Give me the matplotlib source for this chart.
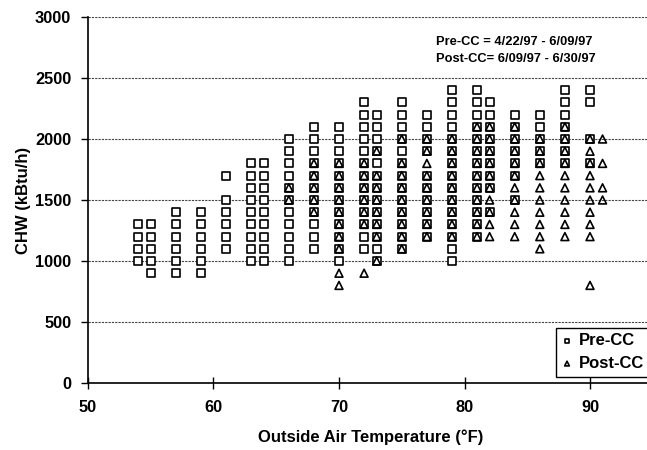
import matplotlib
matplotlib.use("Agg")
import matplotlib.pyplot as plt

plt.rcParams['font.family'] = ['Liberation Sans', 'DejaVu Sans']
plt.rcParams['font.weight'] = 'bold'

# Hourly chilled-water load (kBtu/h) grouped by outside air temperature (°F)
pre_temps = [54, 55, 57, 59, 61, 63, 64, 66, 68, 70, 72, 73, 75, 77, 79, 81, 82, 84, 86, 88, 90]
pre_chw = [
    [1000, 1100, 1200, 1300],
    [900, 1000, 1100, 1200, 1300],
    [900, 1000, 1100, 1200, 1300, 1400],
    [900, 1000, 1100, 1200, 1300, 1400],
    [1100, 1200, 1300, 1400, 1500, 1700],
    [1000, 1100, 1200, 1300, 1400, 1500, 1600, 1700, 1800],
    [1000, 1100, 1200, 1300, 1400, 1500, 1600, 1700, 1800],
    [1000, 1100, 1200, 1300, 1400, 1500, 1600, 1700, 1800, 1900, 2000],
    [1100, 1200, 1300, 1400, 1500, 1600, 1700, 1800, 1900, 2000, 2100],
    [1000, 1100, 1200, 1300, 1400, 1500, 1600, 1700, 1800, 1900, 2000, 2100],
    [1100, 1200, 1300, 1400, 1500, 1600, 1700, 1800, 1900, 2000, 2100, 2200, 2300],
    [1000, 1100, 1200, 1300, 1400, 1500, 1600, 1700, 1800, 1900, 2000, 2100, 2200],
    [1100, 1200, 1300, 1400, 1500, 1600, 1700, 1800, 1900, 2000, 2100, 2200, 2300],
    [1200, 1300, 1400, 1500, 1600, 1700, 1900, 2000, 2100, 2200],
    [1000, 1100, 1200, 1300, 1400, 1500, 1600, 1700, 1800, 1900, 2000, 2100, 2200, 2300, 2400],
    [1200, 1300, 1400, 1500, 1600, 1700, 1800, 1900, 2000, 2100, 2200, 2300, 2400],
    [1400, 1600, 1700, 1800, 1900, 2000, 2100, 2200, 2300],
    [1500, 1700, 1800, 1900, 2000, 2100, 2200],
    [1800, 1900, 2000, 2100, 2200],
    [1800, 1900, 2000, 2100, 2200, 2300, 2400],
    [1800, 2000, 2300, 2400],
]

post_temps = [66, 68, 70, 72, 73, 75, 77, 79, 81, 82, 84, 86, 88, 90, 91]
post_chw = [
    [1500, 1600],
    [1400, 1500, 1600, 1700, 1800],
    [800, 900, 1100, 1200, 1300, 1400, 1500, 1600, 1700, 1800],
    [900, 1300, 1400, 1500, 1600, 1700, 1800],
    [1000, 1200, 1300, 1400, 1500, 1600, 1700, 1900],
    [1100, 1200, 1300, 1400, 1500, 1600, 1700, 1800, 2000],
    [1200, 1300, 1400, 1500, 1600, 1700, 1800, 1900, 2000],
    [1200, 1300, 1400, 1500, 1600, 1700, 1800, 1900, 2000],
    [1200, 1300, 1400, 1500, 1600, 1700, 1800, 1900, 2000, 2100],
    [1200, 1300, 1400, 1500, 1600, 1700, 1800, 1900, 2000, 2100],
    [1200, 1300, 1400, 1500, 1600, 1700, 1800, 1900, 2000, 2100],
    [1100, 1200, 1300, 1400, 1500, 1600, 1700, 1800, 1900, 2000],
    [1200, 1300, 1400, 1500, 1600, 1700, 1800, 1900, 2000, 2100],
    [800, 1200, 1300, 1400, 1500, 1600, 1700, 1800, 1900, 2000],
    [1500, 1600, 1800, 2000],
]

x_ticks = [50, 60, 70, 80, 90]
y_ticks = [0, 500, 1000, 1500, 2000, 2500, 3000]
period_lines = ["Pre-CC = 4/22/97 - 6/09/97", "Post-CC= 6/09/97 - 6/30/97"]


def flatten(temps, columns):
    xs, ys = [], []
    for t, col in zip(temps, columns):
        for v in col:
            xs.append(t)
            ys.append(v)
    return xs, ys


pre_x, pre_y = flatten(pre_temps, pre_chw)
post_x, post_y = flatten(post_temps, post_chw)

fig = plt.figure(figsize=(6.47, 4.5), dpi=100)
ax = fig.add_axes([0.1360, 0.1489, 0.8729, 0.8133])

ax.scatter(pre_x, pre_y, marker='s', s=30, facecolors='white', edgecolors='black',
           linewidths=1.2, zorder=3, label='Pre-CC')
ax.scatter(post_x, post_y, marker='^', s=32, facecolors='none', edgecolors='black',
           linewidths=1.2, zorder=4, label='Post-CC')

ax.set_xlim(50, 95)
ax.set_ylim(0, 3000)
ax.set_xticks(x_ticks)
ax.set_yticks(y_ticks)

ax.yaxis.grid(True, color='#444444', linestyle=(0, (2, 1)), linewidth=0.8, zorder=1)
ax.set_axisbelow(True)

for side in ('top', 'right'):
    ax.spines[side].set_visible(False)
for side in ('left', 'bottom'):
    ax.spines[side].set_linewidth(1.2)
    ax.spines[side].set_color('black')

ax.tick_params(axis='x', direction='inout', length=9, width=1.0, pad=8, labelsize=11.8)
ax.tick_params(axis='y', direction='out', length=5, width=1.0, pad=7, labelsize=11.8)
for lbl in ax.get_xticklabels() + ax.get_yticklabels():
    lbl.set_fontweight('bold')

ax.set_xlabel('Outside Air Temperature (°F)', fontsize=12, fontweight='bold', labelpad=10)
ax.set_ylabel('CHW (kBtu/h)', fontsize=12, fontweight='bold', labelpad=3)

ax.text(0.617, 0.932, period_lines[0], transform=ax.transAxes, ha='left', va='center',
        fontsize=9.3, fontweight='bold')
ax.text(0.617, 0.884, period_lines[1], transform=ax.transAxes, ha='left', va='center',
        fontsize=9.3, fontweight='bold')

leg = ax.legend(loc='lower left', bbox_to_anchor=(0.829, 0.017), borderaxespad=0,
                fancybox=False, framealpha=1, edgecolor='black', markerscale=0.6,
                handlelength=0.6, handletextpad=0.4, borderpad=0.35, labelspacing=0.45,
                prop={'size': 12, 'weight': 'bold'})
leg.get_frame().set_linewidth(1.0)

fig.savefig('out.png', dpi=100)
